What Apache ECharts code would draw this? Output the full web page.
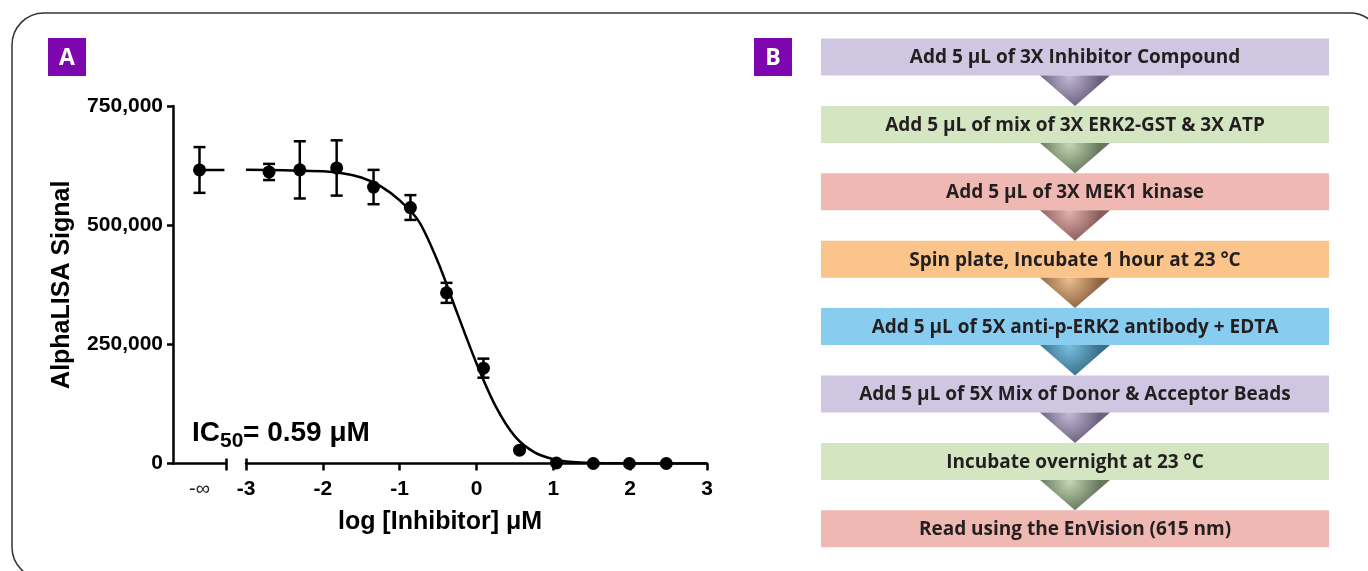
<!DOCTYPE html>
<html>
<head>
<meta charset="utf-8">
<script src="https://cdn.jsdelivr.net/npm/echarts@6/dist/echarts.min.js"></script>
<style>
html,body{margin:0;padding:0;background:#fff;}
#chart{width:1368px;height:571px;}
</style>
</head>
<body>
<div id="chart"></div>
<script>
// ---- Panel A data ----
const negInfPos = 0.5;               // position of the "-∞" (no inhibitor) point in the left axis segment
const negInfMean = 615800;
const negInfErr = 48000;
const logConc = [-2.70, -2.30, -1.82, -1.34, -0.86, -0.39, 0.09, 0.56, 1.04, 1.52, 1.99, 2.47];
const signalMean = [611600, 616000, 620000, 580000, 537000, 358000, 200000, 28000, 1000, 0, 0, 0];
const signalErr = [17000, 60000, 58000, 36000, 26000, 21000, 20000, 0, 0, 0, 0, 0];
const fitX = [-3.0, -2.5, -2.0, -1.75, -1.5, -1.25, -1.0, -0.75, -0.5, -0.25, 0.0, 0.25, 0.5, 0.75, 1.0, 1.25, 1.5, 2.0, 2.5, 3.0];
const fitY = [616000, 615000, 613000, 609000, 600000, 582000, 552000, 508000, 422000, 315000, 210000, 120000, 57000, 24000, 9000, 3000, 1000, 200, 0, 0];
const yTicks = [0, 250000, 500000, 750000];
const xTickLabels = ['-3', '-2', '-1', '0', '1', '2', '3'];

// ---- Panel B data ----
const steps = [
  'Add 5 µL of 3X Inhibitor Compound',
  'Add 5 µL of mix of 3X ERK2-GST & 3X ATP',
  'Add 5 µL of 3X MEK1 kinase',
  'Spin plate, Incubate 1 hour at 23 °C',
  'Add 5 µL of 5X anti-p-ERK2 antibody + EDTA',
  'Add 5 µL of 5X Mix of Donor & Acceptor Beads',
  'Incubate overnight at 23 °C',
  'Read using the EnVision (615 nm)'
];
const stepColors = ['#cfc6e1', '#d4e5c2', '#f0b8b2', '#fbc48b', '#88cdf0', '#cfc6e1', '#d4e5c2', '#f0b8b2'];
const arrowLight = ['#c2b8d4', '#c3d6b2', '#e3b0aa', '#ecbe8d', '#76bfdd', '#c2b8d4', '#c3d6b2'];
const arrowDark = ['#6a6180', '#66775d', '#8a5d5c', '#8c6440', '#3a6f8a', '#6a6180', '#66775d'];

const chart = echarts.init(document.getElementById('chart'));
const AX = '#000';
const FONT = 'Liberation Sans';

function errRender(params, api) {
  const x = api.value(0), y = api.value(1), e = api.value(2);
  if (!e) return null;
  const top = api.coord([x, y + e]);
  const bot = api.coord([x, y - e]);
  const cap = 6;
  const st = {stroke: '#000', lineWidth: 2.5};
  return {type: 'group', children: [
    {type: 'line', shape: {x1: top[0], y1: top[1], x2: bot[0], y2: bot[1]}, style: st},
    {type: 'line', shape: {x1: top[0] - cap, y1: top[1], x2: top[0] + cap, y2: top[1]}, style: st},
    {type: 'line', shape: {x1: bot[0] - cap, y1: bot[1], x2: bot[0] + cap, y2: bot[1]}, style: st}
  ]};
}

function flowRender(params, api) {
  const i = api.value(1);
  const p0 = api.coord([0, i]);
  const p1 = api.coord([1, i]);
  const band = api.size([0, 1])[1];
  const boxH = 37;
  const cx = (p0[0] + p1[0]) / 2;
  const cy = p0[1];
  const children = [
    {type: 'rect', shape: {x: p0[0], y: cy - boxH / 2, width: p1[0] - p0[0], height: boxH},
     style: {fill: stepColors[i]}},
    {type: 'text', style: {text: steps[i], x: cx, y: cy + 1, align: 'center', verticalAlign: 'middle',
     fill: '#231f20', font: 'bold 19px "Open Sans"'}}
  ];
  if (i < steps.length - 1) {
    children.push({type: 'polygon', shape: {points: [[cx - 35, cy + boxH / 2], [cx + 35, cy + boxH / 2], [cx, cy + band - boxH / 2]]},
      style: {fill: new echarts.graphic.RadialGradient(0.42, 0.05, 1.0, [
        {offset: 0, color: arrowLight[i]}, {offset: 1, color: arrowDark[i]}])}});
  }
  return {type: 'group', children};
}

const breakTick = {show: true, inside: true, length: 5, lineStyle: {color: AX, width: 2.5}};

const option = {
  backgroundColor: '#fff',
  animation: false,
  grid: [
    {left: 173, width: 53, top: 106, bottom: 107.5},
    {left: 246, right: 661, top: 106, bottom: 107.5},
    {left: 821, right: 39, top: 23.3, bottom: 8.5}
  ],
  xAxis: [
    {gridIndex: 0, type: 'value', min: 0, max: 1, splitLine: {show: false},
     axisLine: {lineStyle: {color: AX, width: 2.5}},
     axisTick: {customValues: [1], length: 7, lineStyle: {color: AX, width: 2.5}},
     axisLabel: {customValues: [negInfPos], formatter: () => '-∞', margin: 16, color: '#222', fontFamily: FONT, fontSize: 20}},
    {gridIndex: 1, type: 'value', min: -3, max: 3, interval: 1, splitLine: {show: false},
     axisLine: {lineStyle: {color: AX, width: 2.5}},
     axisTick: {length: 7, lineStyle: {color: AX, width: 2.5}},
     axisLabel: {formatter: v => xTickLabels[Math.round(v) + 3], margin: 15, color: '#000', fontFamily: FONT, fontWeight: 'bold', fontSize: 21}},
    {gridIndex: 2, type: 'value', min: 0, max: 1, show: false},
    {gridIndex: 0, type: 'value', min: 0, max: 1, position: 'bottom', splitLine: {show: false},
     axisLine: {show: false}, axisLabel: {show: false}, axisTick: Object.assign({customValues: [1]}, breakTick)},
    {gridIndex: 1, type: 'value', min: -3, max: 3, position: 'bottom', splitLine: {show: false},
     axisLine: {show: false}, axisLabel: {show: false}, axisTick: Object.assign({customValues: [-3]}, breakTick)}
  ],
  yAxis: [
    {gridIndex: 0, type: 'value', min: 0, max: 750000, interval: 250000, splitLine: {show: false},
     axisLine: {show: true, lineStyle: {color: AX, width: 2.5}},
     axisTick: {show: true, length: 6, lineStyle: {color: AX, width: 2.5}},
     axisLabel: {formatter: v => yTicks.includes(v) ? v.toLocaleString('en-US') : '', margin: 10, color: '#000', fontFamily: FONT, fontWeight: 'bold', fontSize: 21},
     name: 'AlphaLISA Signal', nameLocation: 'middle', nameGap: 98,
     nameTextStyle: {color: '#000', fontFamily: FONT, fontWeight: 'bold', fontSize: 25}},
    {gridIndex: 1, type: 'value', min: 0, max: 750000, show: false},
    {gridIndex: 2, type: 'category', data: steps, inverse: true, show: false}
  ],
  graphic: [
    {type: 'rect', shape: {x: 12, y: 13, width: 1370, height: 566, r: 32}, style: {fill: 'none', stroke: '#333', lineWidth: 1.5}, z: 0},
    {type: 'rect', shape: {x: 48, y: 38, width: 38, height: 38}, style: {fill: '#7e06ae'}},
    {type: 'text', x: 67, y: 58, style: {text: 'A', fill: '#fff', font: 'bold 23px "Open Sans"', align: 'center', verticalAlign: 'middle'}},
    {type: 'rect', shape: {x: 754, y: 38, width: 38, height: 38}, style: {fill: '#7e06ae'}},
    {type: 'text', x: 773, y: 58, style: {text: 'B', fill: '#fff', font: 'bold 23px "Open Sans"', align: 'center', verticalAlign: 'middle'}},
    {type: 'text', x: 440, y: 522, style: {text: 'log [Inhibitor] μM', fill: '#000', font: 'bold 25px "Liberation Sans"', align: 'center', verticalAlign: 'middle'}},
    {type: 'text', x: 192, y: 433, style: {text: 'IC', fill: '#000', font: 'bold 28px "Liberation Sans"', align: 'left', verticalAlign: 'middle'}},
    {type: 'text', x: 220, y: 441, style: {text: '50', fill: '#000', font: 'bold 21px "Liberation Sans"', align: 'left', verticalAlign: 'middle'}},
    {type: 'text', x: 243, y: 433, style: {text: '= 0.59 μM', fill: '#000', font: 'bold 28px "Liberation Sans"', align: 'left', verticalAlign: 'middle'}}
  ],
  series: [
    {type: 'line', xAxisIndex: 0, yAxisIndex: 0, data: [[negInfPos, negInfMean], [0.97, negInfMean]], symbol: 'none',
     lineStyle: {color: '#000', width: 2.5}, silent: true},
    {type: 'custom', xAxisIndex: 0, yAxisIndex: 0, renderItem: errRender, data: [[negInfPos, negInfMean, negInfErr]], z: 3},
    {type: 'scatter', xAxisIndex: 0, yAxisIndex: 0, data: [[negInfPos, negInfMean]], symbolSize: 13, itemStyle: {color: '#000', opacity: 1}, z: 4},
    {type: 'line', xAxisIndex: 1, yAxisIndex: 1, data: fitX.map((x, i) => [x, fitY[i]]), symbol: 'none', smooth: 0.3,
     lineStyle: {color: '#000', width: 2.5}, silent: true},
    {type: 'custom', xAxisIndex: 1, yAxisIndex: 1, renderItem: errRender, data: logConc.map((x, i) => [x, signalMean[i], signalErr[i]]), z: 3},
    {type: 'scatter', xAxisIndex: 1, yAxisIndex: 1, data: logConc.map((x, i) => [x, signalMean[i]]), symbolSize: 13, itemStyle: {color: '#000', opacity: 1}, z: 4},
    {type: 'custom', xAxisIndex: 2, yAxisIndex: 2, renderItem: flowRender, data: steps.map((s, i) => [0, i]), silent: true}
  ]
};
chart.setOption(option);
</script>
</body>
</html>
